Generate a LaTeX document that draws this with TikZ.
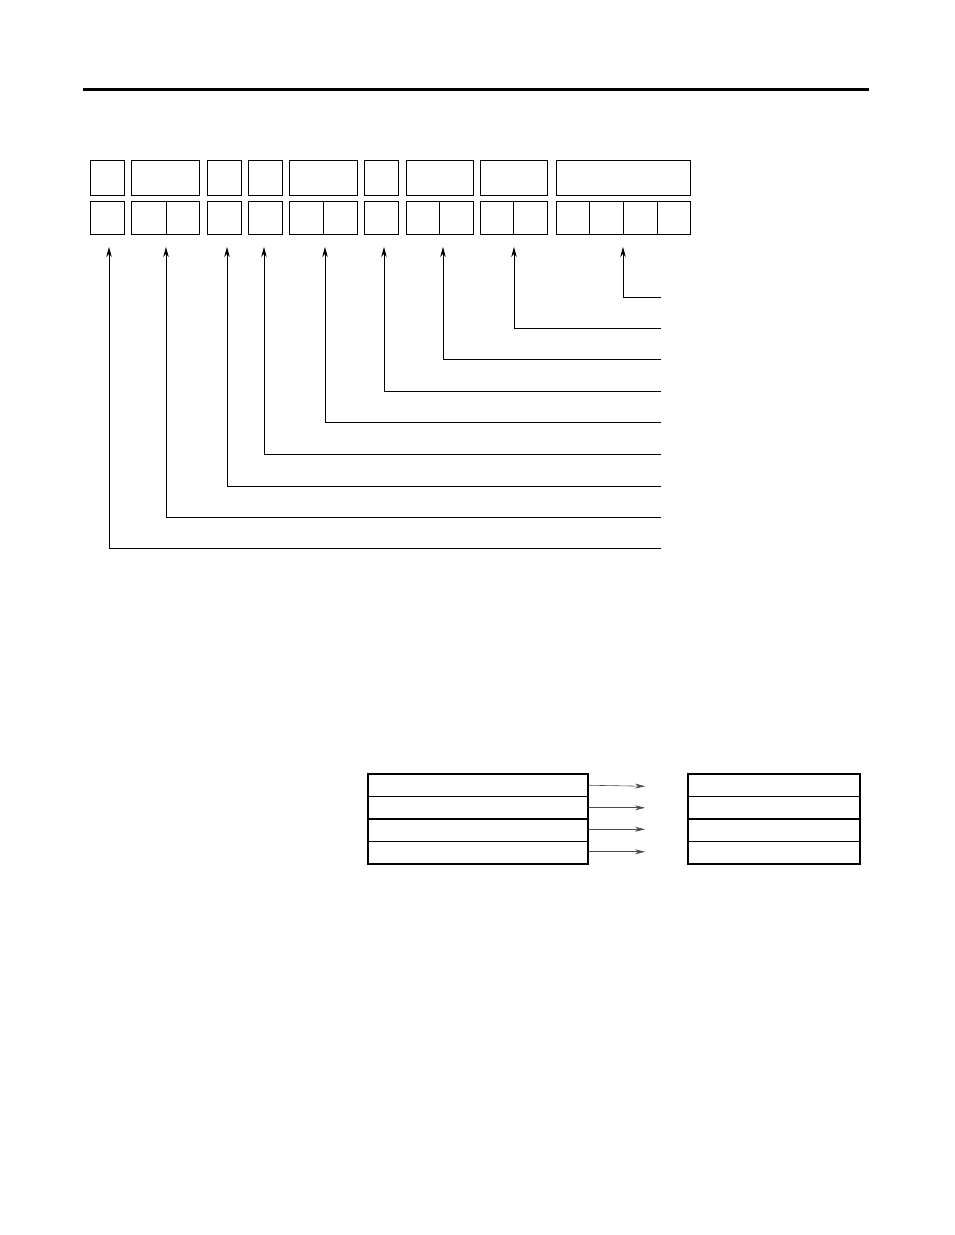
\documentclass[tikz,border=0pt]{standalone}
\usetikzlibrary{arrows.meta}
\begin{document}
\begin{tikzpicture}[x=1pt,y=-1pt,
  cell/.style={draw,line width=0.8pt,inner sep=0pt,outer sep=0pt,anchor=north west,minimum height=#1},
  cell/.default=35pt,
  row/.style={draw,line width=1.2pt,inner sep=0pt,outer sep=0pt,anchor=north west,minimum height=22.5pt},
  arr/.style={line width=0.7pt,-{Stealth[length=10pt,width=5.5pt]}},
  flow/.style={line width=0.6pt,draw=black!70,-{Stealth[length=10pt,width=5pt]}}]
\useasboundingbox (0,0) rectangle (954,1235);
% top rule
\draw[line width=3pt] (83,89) coordinate (ra) -- (869,89) coordinate (rb);
% top row
\node[cell,minimum width=34pt] (t1) at (90,160) {};
\node[cell,minimum width=68pt] (t2) at (131,160) {};
\node[cell,minimum width=34pt] (t3) at (207,160) {};
\node[cell,minimum width=34pt] (t4) at (248,160) {};
\node[cell,minimum width=68pt] (t5) at (289,160) {};
\node[cell,minimum width=34pt] (t6) at (364,160) {};
\node[cell,minimum width=67pt] (t7) at (406,160) {};
\node[cell,minimum width=67pt] (t8) at (480,160) {};
\node[cell,minimum width=134pt] (t9) at (556,160) {};
% bottom row
\node[cell=33pt,minimum width=34pt] (b1) at (90,201) {};
\node[cell=33pt,minimum width=35pt] (b2a) at (131,201) {};
\node[cell=33pt,minimum width=33pt] (b2b) at (166,201) {};
\node[cell=33pt,minimum width=34pt] (b3) at (207,201) {};
\node[cell=33pt,minimum width=34pt] (b4) at (248,201) {};
\node[cell=33pt,minimum width=34pt] (b5a) at (289,201) {};
\node[cell=33pt,minimum width=34pt] (b5b) at (323,201) {};
\node[cell=33pt,minimum width=34pt] (b6) at (364,201) {};
\node[cell=33pt,minimum width=33pt] (b7a) at (406,201) {};
\node[cell=33pt,minimum width=34pt] (b7b) at (439,201) {};
\node[cell=33pt,minimum width=33pt] (b8a) at (480,201) {};
\node[cell=33pt,minimum width=34pt] (b8b) at (513,201) {};
\node[cell=33pt,minimum width=33pt] (b9a) at (556,201) {};
\node[cell=33pt,minimum width=34pt] (b9b) at (589,201) {};
\node[cell=33pt,minimum width=34pt] (b9c) at (623,201) {};
\node[cell=33pt,minimum width=33pt] (b9d) at (657,201) {};
% line ends
\coordinate (e1) at (661,548);
\coordinate (e2) at (661,517);
\coordinate (e3) at (661,486);
\coordinate (e4) at (661,454);
\coordinate (e5) at (661,422);
\coordinate (e6) at (661,391);
\coordinate (e7) at (661,359);
\coordinate (e8) at (661,328);
\coordinate (e9) at (661,297);
% leader arrows
\draw[arr] (e1) -| ([xshift=2pt,yshift=-13pt]b1.south);
\draw[arr] (e2) -| ([yshift=-13pt]b2a.south east);
\draw[arr] (e3) -| ([xshift=3pt,yshift=-13pt]b3.south);
\draw[arr] (e4) -| ([xshift=-1pt,yshift=-13pt]b4.south);
\draw[arr] (e5) -| ([xshift=2pt,yshift=-13pt]b5a.south east);
\draw[arr] (e6) -| ([xshift=3pt,yshift=-13pt]b6.south);
\draw[arr] (e7) -| ([xshift=4pt,yshift=-13pt]b7a.south east);
\draw[arr] (e8) -| ([xshift=1pt,yshift=-13pt]b8a.south east);
\draw[arr] (e9) -| ([yshift=-13pt]b9b.south east);
% lower tables
\node[row,minimum width=220pt] (l1) at (368,774) {};
\node[row,minimum width=220pt] (l2) at (368,796.5) {};
\node[row,minimum width=220pt] (l3) at (368,819) {};
\node[row,minimum width=220pt] (l4) at (368,841.5) {};
\node[row,minimum width=172pt] (r1) at (688,774) {};
\node[row,minimum width=172pt] (r2) at (688,796.5) {};
\node[row,minimum width=172pt] (r3) at (688,819) {};
\node[row,minimum width=172pt] (r4) at (688,841.5) {};
\draw[flow] ([xshift=1pt,yshift=0pt]l1.east) -- ([xshift=-43pt,yshift=-1pt]r1.west);
\draw[flow] ([xshift=1pt,yshift=0pt]l2.east) -- ([xshift=-43pt]r2.west);
\draw[flow] ([xshift=1pt,yshift=1pt]l3.east) -- ([xshift=-43pt,yshift=1pt]r3.west);
\draw[flow] ([xshift=1pt,yshift=1pt]l4.east) -- ([xshift=-43pt,yshift=1pt]r4.west);
\end{tikzpicture}
\end{document}
